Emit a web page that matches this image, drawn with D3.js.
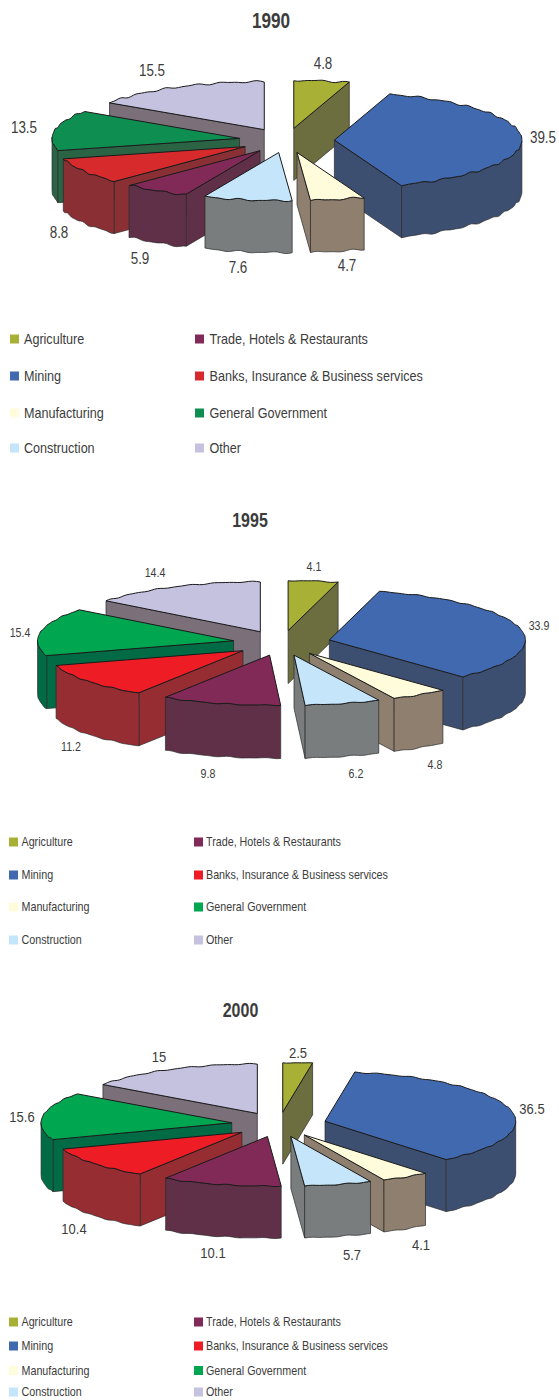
<!DOCTYPE html>
<html>
<head>
<meta charset="utf-8">
<script src="https://cdnjs.cloudflare.com/ajax/libs/d3/7.8.5/d3.min.js"></script>
<style>
    html, body { margin: 0; padding: 0; background: #fff; }
    svg { display: block; }
    text { font-family: "Liberation Sans", Arial, sans-serif; fill: #3c3c3c; }
</style>
</head>
<body>
<div id="chart"></div>
<script>
// --- data ---
const categories = ['Agriculture', 'Mining', 'Manufacturing', 'Construction',
    'Trade, Hotels & Restaurants', 'Banks, Insurance & Business services', 'General Government', 'Other'];
const years = ['1990', '1995', '2000'];
const values1990 = [4.8, 39.5, 4.7, 7.6, 5.9, 8.8, 13.5, 15.5];
const values1995 = [4.1, 33.9, 4.8, 6.2, 9.8, 11.2, 15.4, 14.4];
const values2000 = [2.5, 36.5, 4.1, 5.7, 10.1, 10.4, 15.6, 15];

// --- colours (1990 printed with a slightly different red and green) ---
const topColors = ['#a8b035', '#4169b0', '#fffcdc', '#c5e6fa', '#812a57', '#ee1c25', '#00a650', '#c5c2e0'];
const wallColors = ['#6d6e3f', '#3d4f70', '#8f7f6f', '#797d7e', '#603048', '#952d33', '#006b44', '#7b6f7a'];
const topColors1990 = ['#a8b035', '#4169b0', '#fffcdc', '#c5e6fa', '#812a57', '#d62a2c', '#0e8f51', '#c5c2e0'];
const wallColors1990 = ['#6d6e3f', '#3d4f70', '#8f7f6f', '#797d7e', '#603048', '#8a3034', '#2a6445', '#7b6f7a'];

// back to front
const drawOrder = [7, 0, 1, 2, 6, 5, 4, 3];

// --- layout of the three panels ---
const panels = [
    {
        values: values1990, tops: topColors1990, walls: wallColors1990,
        cx: 286.6, cy: 140.5, rx: 187.5, ry: 48, depth: 52, explode: 0.255, wobble: 0.7,
        title: { x: 271, y: 28, size: 22, sx: 0.78 },
        label: { size: 16, sx: 0.84 },
        labelX: [323, 543, 347, 238, 140, 59, 24, 152],
        labelY: [63, 137, 265, 267, 258, 232, 127, 70],
        legend: { size: 14, sx: 0.9, rows: [339, 376, 413, 448], swatch: 9, x1: 10, t1: 24, x2: 195, t2: 209.5 }
    },
    {
        values: values1995, tops: topColors, walls: wallColors,
        cx: 281.8, cy: 643, rx: 196, ry: 50, depth: 53, explode: 0.25, wobble: 0.4,
        title: { x: 250, y: 527, size: 20, sx: 0.8 },
        label: { size: 12.5, sx: 0.85 },
        labelX: [314, 539, 435, 356, 208, 71, 20, 155],
        labelY: [566, 625, 764, 773, 773, 746, 632, 572],
        legend: { size: 12, sx: 0.895, rows: [842, 875, 907, 940], swatch: 9, x1: 9, t1: 21.5, x2: 194, t2: 206 }
    },
    {
        values: values2000, tops: topColors, walls: wallColors,
        cx: 279, cy: 1124.5, rx: 190.7, ry: 49.5, depth: 52, explode: 0.25, wobble: 0.4,
        title: { x: 240.5, y: 1017, size: 20, sx: 0.8 },
        label: { size: 15.5, sx: 0.84 },
        labelX: [298, 532, 421, 352, 213, 74, 22, 159],
        labelY: [1052, 1108, 1244, 1254, 1252, 1228, 1116, 1056],
        legend: { size: 12, sx: 0.895, rows: [1322, 1346, 1370.5, 1392], swatch: 9, x1: 9, t1: 21.5, x2: 194, t2: 206 }
    }
];

const svg = d3.select('#chart').append('svg')
    .attr('width', 559)
    .attr('height', 1400);

const pie = d3.pie().sort(null).startAngle(0).endAngle(2 * Math.PI);
const closed = d3.line().curve(d3.curveLinearClosed);

// squeezed text, the source picture is narrower than it is tall
function squeezed(g, str, x, y, size, sx, anchor, weight) {
    return g.append('text')
        .attr('transform', `translate(${x},${y}) scale(${sx},1)`)
        .attr('text-anchor', anchor)
        .attr('font-size', size)
        .attr('font-weight', weight || 'normal')
        .text(str);
}

function drawPanel(p, i) {
    const g = svg.append('g').attr('class', 'panel-' + years[i]);
    const arcs = pie(p.values);

    squeezed(g, years[i], p.title.x, p.title.y, p.title.size, p.title.sx, 'middle', 'bold');

    // the rim of the scanned pies is not quite smooth
    const rough = a => p.wobble * (Math.sin(a * 37) + 0.6 * Math.sin(a * 61 + 1));

    drawOrder.forEach(k => {
        const d = arcs[k];
        const mid = (d.startAngle + d.endAngle) / 2;
        const ax = p.cx + p.explode * p.rx * Math.sin(mid);
        const ay = p.cy - p.explode * p.ry * Math.cos(mid);
        const rim = a => [ax + p.rx * Math.sin(a), ay - p.ry * Math.cos(a) + rough(a)];
        const sample = (a0, a1) => {
            const n = Math.max(2, Math.ceil((a1 - a0) / 0.02));
            return d3.range(n + 1).map(j => a0 + (a1 - a0) * j / n);
        };
        const down = pt => [pt[0], pt[1] + p.depth];
        const slice = g.append('g').attr('class', 'slice');

        const wall = pts => slice.append('path')
            .attr('d', closed(pts))
            .attr('fill', p.walls[k])
            .attr('stroke', '#2a2a2a')
            .attr('stroke-width', 0.7)
            .attr('stroke-linejoin', 'round');

        const radialWall = a => {
            const e = rim(a);
            wall([[ax, ay], e, down(e), [ax, ay + p.depth]]);
        };

        // only the side faces that turn towards the viewer
        if (Math.sin(d.startAngle) < -1e-6) radialWall(d.startAngle);
        if (Math.sin(d.endAngle) > 1e-6) radialWall(d.endAngle);

        const a0 = Math.max(d.startAngle, Math.PI / 2);
        const a1 = Math.min(d.endAngle, 3 * Math.PI / 2);
        if (a1 > a0) {
            const edge = sample(a0, a1).map(rim);
            wall(edge.concat(edge.map(down).reverse()));
        }

        const top = [[ax, ay]].concat(sample(d.startAngle, d.endAngle).map(rim));
        slice.append('path')
            .attr('d', closed(top))
            .attr('fill', p.tops[k])
            .attr('stroke', '#1a1a1a')
            .attr('stroke-width', 1)
            .attr('stroke-linejoin', 'round');
    });

    // value labels
    p.values.forEach((v, k) => {
        squeezed(g, String(v), p.labelX[k], p.labelY[k] + p.label.size * 0.36, p.label.size, p.label.sx, 'middle');
    });

    // legend, two columns of four
    const lg = p.legend;
    categories.forEach((name, k) => {
        const col = k < 4 ? 0 : 1;
        const y = lg.rows[k % 4];
        g.append('rect')
            .attr('x', col ? lg.x2 : lg.x1)
            .attr('y', y - lg.swatch / 2)
            .attr('width', lg.swatch)
            .attr('height', lg.swatch)
            .attr('fill', p.tops[k]);
        squeezed(g, name, col ? lg.t2 : lg.t1, y + lg.size * 0.36, lg.size, lg.sx, 'start');
    });
}

panels.forEach(drawPanel);
</script>
</body>
</html>
